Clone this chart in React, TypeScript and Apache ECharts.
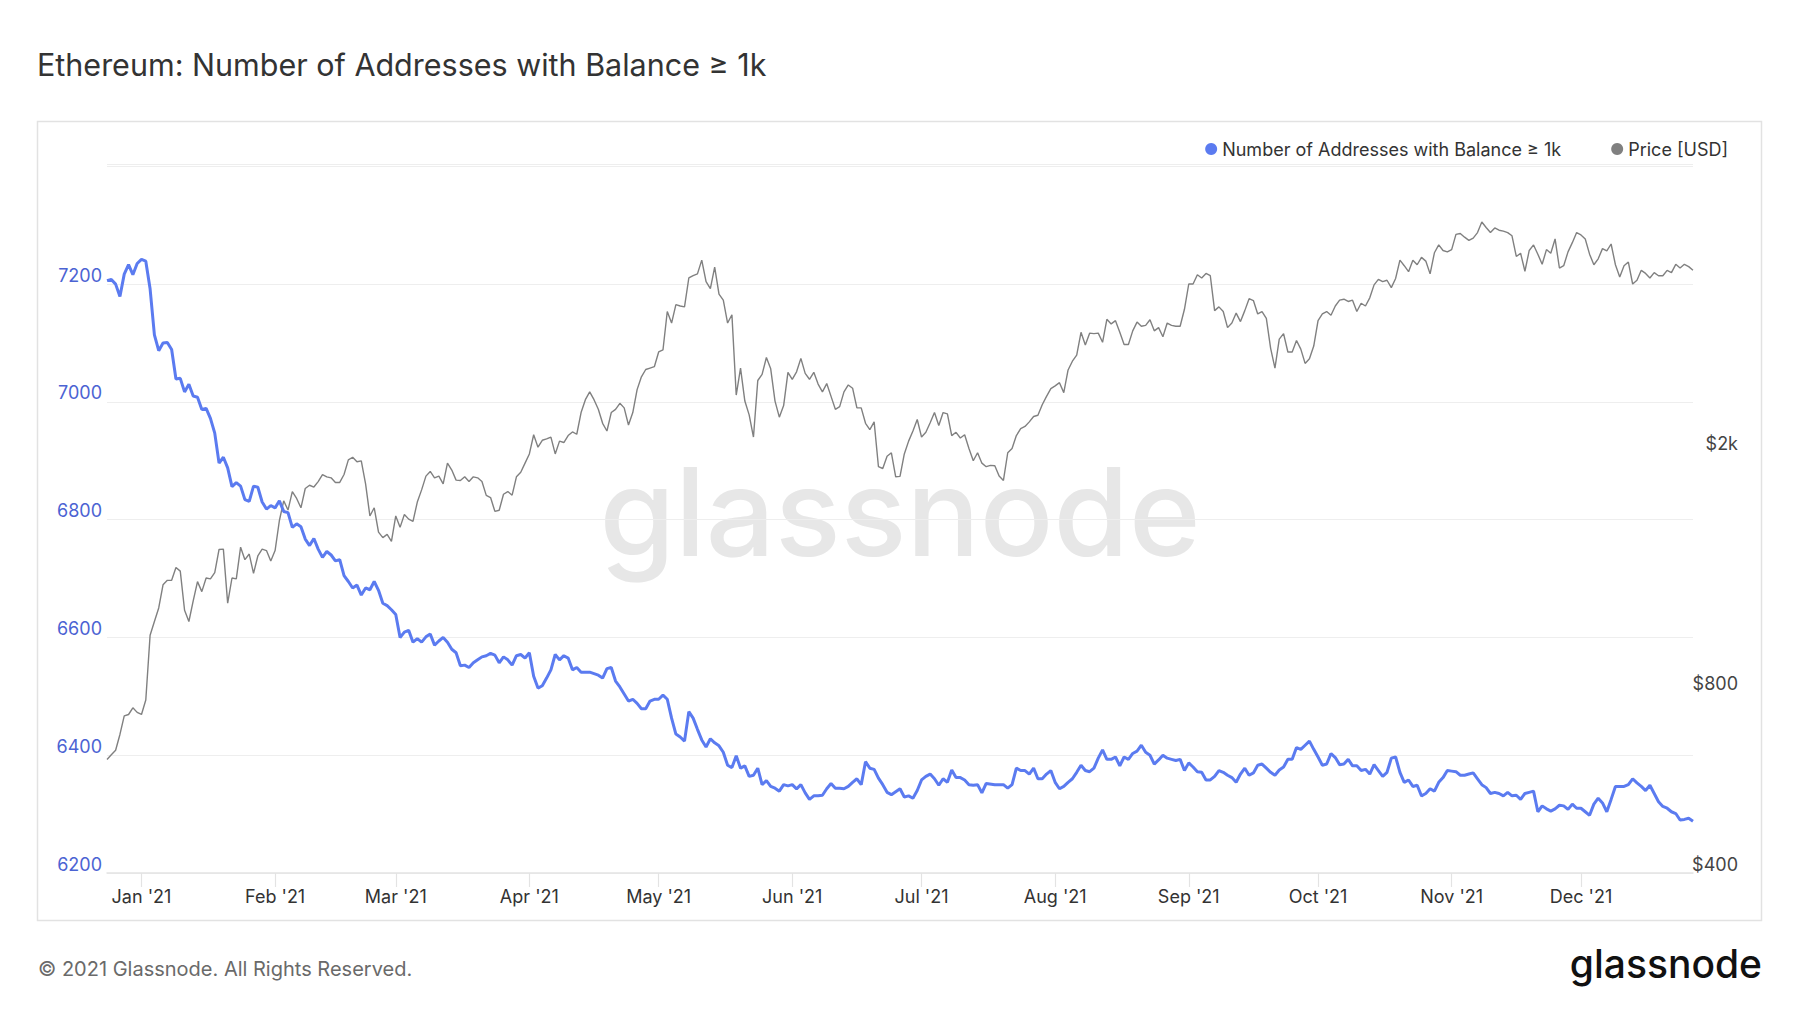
import React, { useEffect, useRef } from "react";
import * as echarts from "echarts";

const START_UTC = Date.UTC(2020, 11, 24);
const DAY_MS = 86400000;
const LAST_DAY = 368;

const TITLE = "Ethereum: Number of Addresses with Balance ≥ 1k";
const ADDR_NAME = "Number of Addresses with Balance ≥ 1k";
const PRICE_NAME = "Price [USD]";
const FOOTER = "© 2021 Glassnode. All Rights Reserved.";
const BRAND = "glassnode";

// [day offset from 2020-12-24, number of addresses]
const ADDRESS_POINTS: [number, number][] = [
  [0,7206],[1,7208],[2,7200],[3,7179],[4,7217],[5,7233],[6,7216],[7,7235],[8,7242],[9,7239],
  [10,7192],[11,7114],[12,7087],[13,7100],[14,7101],[15,7089],[16,7039],[17,7040],[18,7017],[19,7030],
  [20,7010],[21,7008],[22,6987],[23,6989],[24,6972],[25,6947],[26,6896],[27,6906],[28,6888],[29,6856],
  [30,6863],[31,6857],[32,6834],[33,6831],[34,6857],[35,6855],[36,6830],[37,6818],[38,6824],[39,6820],
  [40,6832],[41,6814],[42,6812],[43,6787],[44,6793],[45,6788],[46,6767],[47,6756],[48,6768],[49,6750],
  [50,6736],[51,6746],[52,6740],[53,6730],[54,6732],[55,6705],[56,6695],[57,6684],[58,6689],[59,6672],
  [60,6684],[61,6681],[62,6695],[63,6680],[64,6658],[65,6654],[66,6647],[67,6639],[68,6600],[69,6609],
  [70,6612],[71,6592],[72,6598],[73,6592],[74,6601],[75,6606],[76,6587],[77,6594],[78,6600],[79,6592],
  [80,6580],[81,6574],[82,6552],[83,6553],[84,6549],[85,6557],[86,6562],[87,6567],[88,6569],[89,6573],
  [90,6570],[91,6557],[92,6567],[93,6562],[94,6553],[95,6569],[96,6571],[97,6565],[98,6574],[99,6534],
  [100,6514],[101,6518],[102,6531],[103,6545],[104,6571],[105,6562],[106,6569],[107,6565],[108,6545],[109,6549],
  [110,6541],[112,6541],[114,6536],[115,6531],[116,6547],[117,6549],[118,6526],[119,6516],
  [120,6504],[121,6492],[122,6495],[123,6488],[124,6479],[125,6479],[126,6492],[127,6495],[128,6495],[129,6502],
  [130,6495],[131,6463],[132,6436],[133,6431],[134,6424],[135,6474],[136,6463],[137,6444],[138,6426],[139,6414],
  [140,6428],[141,6421],[142,6416],[143,6405],[144,6383],[145,6379],[146,6399],[147,6378],[148,6382],[149,6364],
  [150,6366],[151,6378],[152,6350],[153,6357],[154,6347],[155,6344],[156,6339],[157,6350],[158,6348],[159,6350],
  [160,6343],[161,6350],[162,6336],[163,6325],[164,6331],[165,6331],[166,6332],[167,6343],[168,6352],[169,6344],
  [170,6344],[171,6343],[172,6347],[173,6354],[174,6360],[175,6350],[176,6389],[177,6378],[178,6376],[179,6361],
  [180,6350],[181,6337],[182,6333],[184,6343],[185,6329],[186,6331],[187,6327],[188,6340],[189,6358],
  [190,6364],[191,6368],[192,6360],[193,6349],[194,6360],[195,6354],[196,6375],[197,6362],[198,6362],[199,6358],
  [200,6350],[201,6349],[202,6350],[203,6336],[204,6352],[206,6350],[208,6350],[209,6344],
  [210,6350],[211,6378],[212,6374],[213,6374],[214,6368],[215,6378],[216,6360],[217,6360],[218,6368],[219,6374],
  [220,6354],[221,6343],[222,6347],[223,6354],[224,6360],[225,6371],[226,6383],[227,6374],[228,6372],[229,6378],
  [230,6395],[231,6409],[232,6393],[233,6393],[234,6397],[235,6382],[236,6397],[237,6393],[238,6403],[239,6407],
  [240,6417],[241,6405],[242,6400],[243,6385],[244,6392],[245,6400],[246,6395],[247,6393],[248,6391],[249,6393],
  [250,6374],[251,6387],[252,6380],[253,6372],[254,6371],[255,6358],[256,6358],[257,6364],[258,6374],[259,6371],
  [260,6366],[261,6362],[262,6354],[263,6368],[264,6378],[265,6366],[266,6370],[267,6383],[268,6385],[269,6378],
  [270,6371],[271,6366],[272,6375],[273,6380],[274,6393],[275,6393],[276,6413],[277,6410],[278,6417],[279,6424],
  [280,6410],[281,6397],[282,6383],[283,6385],[284,6403],[285,6396],[286,6384],[287,6385],[288,6393],[289,6382],
  [290,6382],[291,6374],[292,6376],[293,6368],[294,6384],[295,6374],[296,6364],[297,6371],[298,6395],[299,6397],
  [300,6371],[301,6354],[302,6358],[303,6347],[304,6349],[305,6331],[306,6335],[307,6343],[308,6339],[309,6354],
  [310,6362],[311,6374],[312,6373],[313,6372],[314,6366],[315,6366],[316,6368],[317,6370],[318,6360],[319,6350],
  [320,6345],[321,6335],[322,6337],[323,6335],[324,6331],[325,6337],[326,6331],[327,6332],[328,6325],[329,6335],
  [330,6337],[331,6339],[332,6304],[333,6314],[334,6309],[335,6305],[336,6309],[337,6315],[338,6314],[339,6308],
  [340,6317],[341,6310],[342,6310],[343,6304],[344,6298],[345,6317],[346,6327],[347,6319],[348,6304],[349,6325],
  [350,6347],[351,6347],[352,6347],[353,6350],[354,6360],[355,6353],[356,6347],[357,6340],[358,6349],[359,6335],
  [360,6321],[361,6313],[362,6310],[363,6304],[364,6301],[365,6290],[366,6291],[367,6293],[368,6288],
];

// [day offset from 2020-12-24, ETH price in USD]
const PRICE_POINTS: [number, number][] = [
  [0,618],[1,629],[2,640],[3,680],[4,730],[5,734],[6,753],[7,740],[8,734],[9,776],
  [10,994],[11,1048],[12,1104],[13,1206],[14,1227],[15,1227],[16,1289],[17,1271],[18,1094],[19,1048],
  [20,1134],[21,1221],[22,1175],[23,1238],[24,1234],[25,1264],[26,1381],[27,1383],[28,1124],[29,1238],
  [30,1234],[31,1393],[32,1328],[33,1357],[34,1260],[35,1347],[36,1383],[37,1375],[38,1321],[39,1375],
  [40,1543],[41,1664],[42,1606],[43,1723],[44,1679],[45,1620],[46,1744],[47,1766],[48,1754],[49,1791],
  [50,1840],[51,1824],[52,1817],[53,1785],[54,1785],[55,1840],[56,1946],[57,1966],[58,1932],[59,1939],
  [60,1775],[61,1570],[62,1620],[63,1476],[64,1445],[65,1463],[66,1425],[67,1570],[68,1503],[69,1579],
  [70,1551],[71,1538],[72,1656],[73,1735],[74,1829],[75,1862],[76,1817],[77,1829],[78,1775],[79,1922],
  [80,1872],[81,1801],[82,1798],[83,1824],[84,1791],[85,1824],[86,1817],[87,1791],[88,1699],[89,1685],
  [90,1598],[91,1605],[92,1706],[93,1724],[94,1700],[95,1824],[96,1856],[97,1922],[98,1991],[99,2143],
  [100,2043],[101,2098],[102,2109],[103,2124],[104,1991],[105,2091],[106,2080],[107,2136],[108,2166],[109,2147],
  [110,2333],[111,2451],[112,2525],[113,2451],[114,2362],[115,2239],[116,2174],[117,2333],[118,2362],[119,2417],
  [120,2375],[121,2224],[122,2333],[123,2547],[124,2675],[125,2751],[126,2766],[127,2781],[128,2942],[129,2965],
  [130,3435],[131,3287],[132,3527],[133,3509],[134,3497],[135,3906],[136,3940],[137,3968],[138,4182],[139,3852],
  [140,3750],[141,4073],[142,3671],[143,3588],[144,3287],[145,3393],[146,2495],[147,2766],[148,2438],[149,2312],
  [150,2124],[151,2638],[152,2700],[153,2881],[154,2758],[155,2438],[156,2292],[157,2396],[158,2722],[159,2650],
  [160,2727],[161,2871],[162,2711],[163,2650],[164,2722],[165,2602],[166,2525],[167,2607],[168,2482],[169,2362],
  [170,2387],[171,2525],[172,2593],[173,2561],[174,2375],[175,2375],[176,2239],[177,2186],[178,2251],[179,1896],
  [180,1883],[181,1974],[182,2000],[183,1824],[184,1827],[185,1991],[186,2091],[187,2174],[188,2272],[189,2124],
  [190,2163],[191,2243],[192,2333],[193,2220],[194,2333],[195,2321],[196,2136],[197,2163],[198,2116],[199,2143],
  [200,2033],[201,1940],[202,2000],[203,1922],[204,1896],[205,1906],[206,1903],[207,1830],[208,1799],[209,2000],
  [210,2033],[211,2136],[212,2193],[213,2212],[214,2251],[215,2298],[216,2309],[217,2404],[218,2482],[219,2557],
  [220,2584],[221,2616],[222,2518],[223,2746],[224,2840],[225,2907],[226,3173],[227,3021],[228,3162],[229,3157],
  [230,3162],[231,3053],[232,3334],[233,3276],[234,3317],[235,3173],[236,3027],[237,3027],[238,3190],[239,3299],
  [240,3247],[241,3258],[242,3328],[243,3190],[244,3230],[245,3118],[246,3287],[247,3258],[248,3247],[249,3247],
  [250,3465],[251,3817],[252,3817],[253,3954],[254,3906],[255,3975],[256,3940],[257,3447],[258,3497],[259,3435],
  [260,3230],[261,3287],[262,3415],[263,3305],[264,3447],[265,3608],[266,3583],[267,3403],[268,3435],[269,3346],
  [270,2984],[271,2766],[272,3091],[273,3157],[274,2942],[275,2942],[276,3075],[277,2975],[278,2816],[279,2866],
  [280,3010],[281,3317],[282,3403],[283,3435],[284,3387],[285,3509],[286,3588],[287,3601],[288,3570],[289,3588],
  [290,3435],[291,3546],[292,3509],[293,3620],[294,3804],[295,3885],[296,3852],[297,3872],[298,3764],[299,3899],
  [300,4182],[301,4094],[302,4001],[303,4182],[304,4109],[305,4227],[306,4167],[307,3968],[308,4302],[309,4433],
  [310,4340],[311,4317],[312,4355],[313,4616],[314,4632],[315,4567],[316,4512],[317,4551],[318,4648],[319,4840],
  [320,4739],[321,4648],[322,4731],[323,4690],[324,4673],[325,4648],[326,4591],[327,4242],[328,4294],[329,4008],
  [330,4340],[331,4433],[332,4279],[333,4116],[334,4355],[335,4294],[336,4536],[337,4058],[338,4094],[339,4317],
  [340,4472],[341,4648],[342,4607],[343,4536],[344,4279],[345,4109],[346,4204],[347,4371],[348,4332],[349,4449],
  [350,4109],[351,3920],[352,4094],[353,4152],[354,3817],[355,3872],[356,4022],[357,3975],[358,3906],[359,3988],
  [360,3940],[361,3940],[362,4022],[363,3988],[364,4116],[365,4058],[366,4116],[367,4080],[368,4022],
];

const ADDRESS_TICKS = [6200, 6400, 6600, 6800, 7000, 7200];
const PRICE_TICKS = [400, 800, 2000];
const PRICE_TICK_LABELS = ["$400", "$800", "$2k"];
const MONTH_LABELS = [
  "Jan '21", "Feb '21", "Mar '21", "Apr '21", "May '21", "Jun '21",
  "Jul '21", "Aug '21", "Sep '21", "Oct '21", "Nov '21", "Dec '21",
];
const MONTH_STARTS = MONTH_LABELS.map((_, i) => Date.UTC(2021, i, 1));

const FONT = "Inter, 'Noto Sans', 'DejaVu Sans', sans-serif";
const BLUE = "#5b7bf0";
const GREY = "#808080";

const toSeries = (pts: [number, number][]) =>
  pts.map(([d, v]) => [START_UTC + d * DAY_MS, v]);

export default function App() {
  const ref = useRef<HTMLDivElement>(null);

  useEffect(() => {
    if (!ref.current) return;
    const chart = echarts.init(ref.current, undefined, { renderer: "svg" });
    const option: any = {
      animation: false,
      backgroundColor: "#ffffff",
      textStyle: { fontFamily: FONT },
      legend: {
        data: [
          { name: ADDR_NAME, itemStyle: { color: BLUE } },
          { name: PRICE_NAME, itemStyle: { color: GREY } },
        ],
        right: 67,
        top: 135,
        icon: "circle",
        itemWidth: 12,
        itemHeight: 12,
        itemGap: 50,
        textStyle: { fontSize: 18, color: "#333333", fontFamily: FONT },
      },
      grid: { left: 107, right: 107, top: 164, bottom: 140, containLabel: false },
      xAxis: {
        type: "value",
        min: START_UTC,
        max: START_UTC + LAST_DAY * DAY_MS,
        axisLine: { show: true, lineStyle: { color: "#e3e3e3", width: 1.5 } },
        axisTick: {
          show: true,
          customValues: MONTH_STARTS,
          length: 14,
          lineStyle: { color: "#e3e3e3", width: 1.2 },
        },
        axisLabel: {
          customValues: MONTH_STARTS,
          formatter: (v: number) => {
            const i = MONTH_STARTS.findIndex((t) => Math.abs(v - t) < DAY_MS);
            return i >= 0 ? MONTH_LABELS[i] : "";
          },
          fontSize: 18,
          color: "#333333",
          margin: 14,
          fontFamily: FONT,
        },
        splitLine: { show: false },
      },
      yAxis: [
        {
          type: "value",
          min: 6200,
          max: 7404,
          interval: 200,
          position: "left",
          axisLine: { show: false },
          axisTick: { show: false },
          axisLabel: {
            color: "#4b63d3",
            fontSize: 18,
            margin: 5,
            verticalAlign: "bottom",
            fontFamily: FONT,
            formatter: (v: number) => (ADDRESS_TICKS.indexOf(v) >= 0 ? String(v) : ""),
          },
          splitLine: { show: true, lineStyle: { color: "#eeeeee", width: 1.2 } },
        },
        {
          type: "log",
          logBase: 10,
          min: 400,
          max: 6044,
          position: "right",
          axisLine: { show: false },
          axisTick: { show: false },
          splitLine: { show: false },
          axisLabel: {
            customValues: PRICE_TICKS,
            align: "right",
            margin: 45,
            verticalAlign: "bottom",
            color: "#444444",
            fontSize: 18,
            fontFamily: FONT,
            formatter: (v: number) => {
              const i = PRICE_TICKS.findIndex((t) => Math.abs(v - t) / t < 0.02);
              return i >= 0 ? PRICE_TICK_LABELS[i] : "";
            },
          },
        },
      ],
      graphic: [
        {
          type: "rect",
          silent: true,
          z: -10,
          shape: { x: 37.5, y: 121.5, width: 1724, height: 799 },
          style: { fill: "none", stroke: "#e2e2e2", lineWidth: 1.5 },
        },
        {
          type: "text",
          silent: true,
          z: -5,
          x: 900,
          y: 511,
          style: {
            text: BRAND,
            fontSize: 122,
            fontWeight: 500,
            fontFamily: FONT,
            fill: "#e7e7e7",
            align: "center",
            verticalAlign: "middle",
          },
        },
        {
          type: "text",
          x: 37,
          y: 64.5,
          style: {
            text: TITLE,
            fontSize: 30.5,
            fontWeight: 400,
            fontFamily: FONT,
            fill: "#333333",
            align: "left",
            verticalAlign: "middle",
          },
        },
        {
          type: "text",
          x: 38,
          y: 969,
          style: {
            text: FOOTER,
            fontSize: 20,
            fontFamily: FONT,
            fill: "#6a6a6a",
            align: "left",
            verticalAlign: "middle",
          },
        },
        {
          type: "text",
          x: 1762,
          y: 963,
          style: {
            text: BRAND,
            fontSize: 39,
            fontWeight: 500,
            fontFamily: FONT,
            fill: "#111111",
            align: "right",
            verticalAlign: "middle",
          },
        },
      ],
      series: [
        {
          name: PRICE_NAME,
          type: "line",
          yAxisIndex: 1,
          data: toSeries(PRICE_POINTS),
          showSymbol: false,
          symbol: "none",
          color: GREY,
          lineStyle: { color: GREY, width: 1.4 },
          z: 2,
        },
        {
          name: ADDR_NAME,
          type: "line",
          yAxisIndex: 0,
          data: toSeries(ADDRESS_POINTS),
          showSymbol: false,
          symbol: "none",
          color: BLUE,
          lineStyle: { color: BLUE, width: 3 },
          z: 3,
        },
      ],
    };
    chart.setOption(option);
    return () => chart.dispose();
  }, []);

  return (
    <div
      ref={ref}
      style={{ position: "fixed", left: 0, top: 0, width: 1800, height: 1013, background: "#fff" }}
    />
  );
}
